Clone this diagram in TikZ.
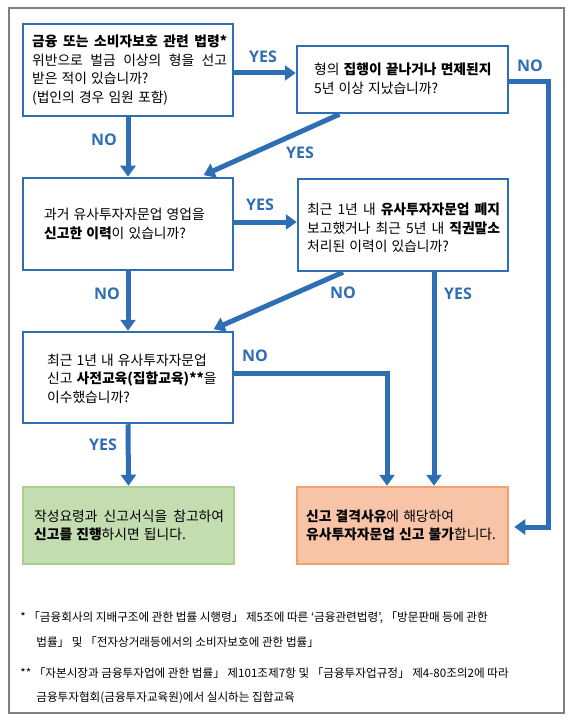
\documentclass[tikz,border=0pt]{standalone}
\usepackage{fontspec}
\setmainfont{Noto Sans CJK KR}
\newfontfamily\lblfont{Open Sans}
\usetikzlibrary{arrows.meta}

\definecolor{flowblue}{HTML}{2E6EB5}
\definecolor{okfill}{HTML}{C3DDB1}
\definecolor{okline}{HTML}{A9D18E}
\definecolor{ngfill}{HTML}{F7C4A8}
\definecolor{ngline}{HTML}{F2A06E}
\definecolor{framegray}{HTML}{7F7F7F}

\newcommand{\fullline}[2]{\makebox[#1][s]{#2}}
\newcommand{\boxfont}{\fontsize{13.8}{18.5}\selectfont\spaceskip=0.3em plus 0.3em\relax}

\tikzset{every picture/.style={line width=0.75pt}}
\tikzset{
  qbox/.style={draw=flowblue, line width=2.5pt, fill=white, minimum width=210pt,
    minimum height=92pt, inner sep=0pt},
  resbox/.style={qbox, minimum height=77pt},
  txt/.style={anchor=west, inner sep=0pt, align=left, font=\boxfont},
  flow/.style={draw=flowblue, line width=5pt, -{Triangle[width=15pt,length=11pt]}},
  yn/.style={text=flowblue, inner sep=0pt, font=\lblfont\bfseries\fontsize{16}{16}\selectfont},
  note/.style={anchor=base west, inner sep=0pt, font=\fontsize{11.6}{12}\selectfont}
}

\begin{document}
\begin{tikzpicture}[x=1pt,y=1pt,yscale=-1,xscale=1]
\useasboundingbox (0,0) rectangle (573,727);

%Shape: Frame
\draw [framegray, line width=1.3pt] (9,8) rectangle (564,713);

%Question boxes
\node [qbox] (q1) at (128,70) {};
\node [qbox, minimum width=211pt, minimum height=67pt] (q2) at (402.5,79.5) {};
\node [qbox] (q3) at (128,224) {};
\node [qbox] (q4) at (403,225) {};
\node [qbox, minimum height=91pt] (q5) at (128,377.5) {};

%Result boxes
\node [resbox, draw=okline, fill=okfill, minimum width=211pt] (ok) at (128.5,525.5) {};
\node [resbox, draw=ngline, fill=ngfill, minimum width=211pt] (ng) at (402.5,525.5) {};

%Box texts
\node [txt] (t1) at ([xshift=10pt]q1.west) {\fullline{195pt}{\bfseries 금융 또는 소비자보호 관련 법령*}\\
  \fullline{195pt}{위반으로 벌금 이상의 형을 선고}\\받은 적이 있습니까?\\(법인의 경우 임원 포함)};
\node [txt] (t2) at ([xshift=18pt,yshift=-1pt]q2.west) {형의 \textbf{집행이 끝나거나 면제된지}\\5년 이상 지났습니까?};
\node [txt] (t3) at ([xshift=22pt]q3.west) {과거 유사투자자문업 영업을\\\textbf{신고한 이력}이 있습니까?};
\node [txt] (t4) at ([xshift=10pt,yshift=3pt]q4.west) {\fullline{193pt}{최근 1년 내 \textbf{유사투자자문업 폐지}}\\
  \fullline{193pt}{보고했거나 최근 5년 내 \textbf{직권말소}}\\처리된 이력이 있습니까?};
\node [txt] (t5) at ([xshift=25pt,yshift=1pt]q5.west) {최근 1년 내 유사투자자문업\\신고 \textbf{사전교육(집합교육)**}을\\이수했습니까?};
\node [txt] (t6) at ([xshift=12pt]ok.west) {\fullline{190pt}{작성요령과 신고서식을 참고하여}\\\textbf{신고를 진행}하시면 됩니다.};
\node [txt] (t7) at ([xshift=10pt]ng.west) {\textbf{신고 결격사유}에 해당하여\\\textbf{유사투자자문업 신고 불가}합니다.};

%Connectors
\draw [flow] ([yshift=3pt]q1.east) -- ([yshift=3pt]q1.east -| q2.west);
\draw [flow] (q1.south) -- (q3.north);
\draw [flow, shorten >=4pt] ([xshift=-63pt]q2.south) -- ([xshift=72pt]q3.north);
\draw [flow, shorten >=5pt] ([yshift=2.5pt]q2.east) -- ++(39,0) |- ([yshift=1.5pt]ng.east);
\draw [flow] ([yshift=-2pt]q3.east) -- ([yshift=-2pt]q3.east -| q4.west);
\draw [flow] (q3.south) -- (q5.north);
\draw [flow, shorten >=4pt] ([xshift=-60pt]q4.south) -- ([xshift=82pt]q5.north);
\draw [flow] ([xshift=31pt]q4.south) -- ([xshift=31pt]q4.south |- ng.north);
\draw [flow] ([yshift=-4.5pt]q5.east) -| ([xshift=-15.5pt]ng.north);
\draw [flow] (q5.south) -- (ok.north);

%Labels
\node [yn] (y1) at (263,57) {YES};
\node [yn] (n1) at (104,140) {NO};
\node [yn] (y2) at (300,153) {YES};
\node [yn] (n2) at (530,66) {NO};
\node [yn] (y3) at (260,205) {YES};
\node [yn] (n3) at (107,294) {NO};
\node [yn] (n4) at (343,293) {NO};
\node [yn] (y4) at (458,294) {YES};
\node [yn] (n5) at (255,356) {NO};
\node [yn] (y5) at (103,445) {YES};

%Footnotes
\node [note] (f1a) at (20,621) {* 「금융회사의 지배구조에 관한 법률 시행령」 제5조에 따른 ‘금융관련법령’, 「방문판매 등에 관한};
\node [note] (f1b) at (36,646) {법률」 및 「전자상거래등에서의 소비자보호에 관한 법률」};
\node [note] (f2a) at (20,677) {** 「자본시장과 금융투자업에 관한 법률」 제101조제7항 및 「금융투자업규정」 제4-80조의2에 따라};
\node [note] (f2b) at (36,701) {금융투자협회(금융투자교육원)에서 실시하는 집합교육};
\end{tikzpicture}
\end{document}
